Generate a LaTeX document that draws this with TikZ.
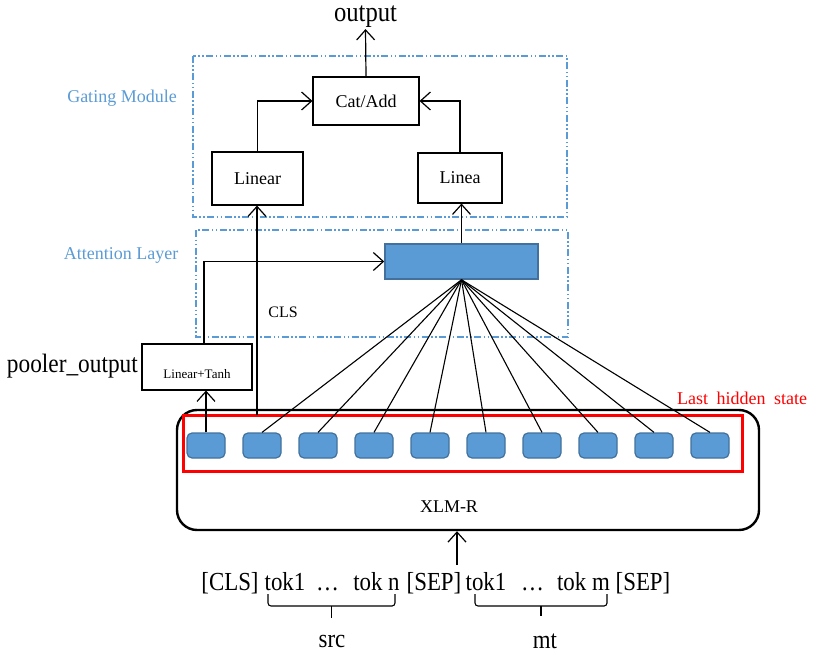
\documentclass[tikz,border=0pt]{standalone}
\usepackage{fontspec}
\setmainfont{Liberation Serif}
\newfontfamily\tallfont{Liberation Serif}[FakeStretch=0.88]
\usetikzlibrary{arrows.meta}
\definecolor{ablue}{HTML}{5B9BD5}
\definecolor{dblue}{HTML}{41719C}
\definecolor{lblue}{HTML}{5B9BD5}
\tikzset{
  arr/.style={line width=1.2pt, -{Straight Barb[length=10pt,width=18pt,line width=1.2pt]}},
  wire/.style={line width=1.1pt},
  plainbox/.style={draw, line width=1.1pt, fill=white, inner sep=0pt},
  grp/.style={draw=lblue, line width=1.2pt, dash pattern=on 7pt off 2.5pt on 1.5pt off 2.5pt on 1.5pt off 2.5pt},
  grplabel/.style={text=ablue, font=\fontsize{18}{20}\selectfont, inner sep=0pt},
  tok/.style={draw=dblue, line width=1.2pt, fill=ablue, rounded corners=5pt, minimum width=38pt, minimum height=25pt, inner sep=0pt},
  txt/.style={font=\tallfont\fontsize{26}{28}\selectfont, inner sep=0pt, anchor=base},
}
\begin{document}
\begin{tikzpicture}[x=1pt,y=-1pt]
\useasboundingbox (0,0) rectangle (816,655);

% group boxes
\draw[grp] (193,56) rectangle (567,217);
\draw[grp] (196,230) rectangle (568,337);
\node[grplabel] (glab) at (122,98) {Gating Module};
\node[grplabel] (alab) at (121,255) {Attention Layer};

% top part
\node[font=\tallfont\fontsize{28}{30}\selectfont, inner sep=1pt] (out) at (365.5,17) {output};
\node[plainbox, minimum width=106pt, minimum height=48pt, font=\fontsize{18}{20}\selectfont] (cat) at (366,101) {Cat/Add};
\node[plainbox, minimum width=91pt, minimum height=53pt, font=\fontsize{18}{20}\selectfont] (lin1) at (257.5,178.5) {Linear};
\node[plainbox, minimum width=84pt, minimum height=50pt, font=\fontsize{18}{20}\selectfont] (lin2) at (460,178) {Linea};

% attention bar
\node[draw=dblue, line width=1.6pt, fill=ablue, minimum width=153pt, minimum height=35pt, inner sep=0pt] (bar) at (461.5,261.5) {};
\node[font=\fontsize{16}{18}\selectfont, inner sep=0pt] (cls) at (283,312) {CLS};

% pooler
\node[font=\tallfont\fontsize{26.5}{28}\selectfont, inner sep=0pt, anchor=east] (pool) at (138,366) {pooler\_output};
\node[plainbox, minimum width=110pt, minimum height=46pt] (tanh) at (197,367) {};
\node[font=\fontsize{13}{15}\selectfont, inner sep=0pt] (tanhtxt) at (197,374) {Linear+Tanh};

% XLM-R
\node[draw, line width=2.4pt, rounded corners=20pt, minimum width=582pt, minimum height=120pt, inner sep=0pt] (xlm) at (468,470) {};
\node[draw=red, line width=3pt, minimum width=559pt, minimum height=56pt, inner sep=0pt] (red) at (462.5,443) {};
\node[font=\fontsize{18}{20}\selectfont, inner sep=0pt] (xlmtxt) at (449,507) {XLM-R};
\node[text=red, font=\fontsize{18}{20}\selectfont, inner sep=0pt] (lhs) at (742,398) {Last\hspace{4pt} hidden\hspace{4pt} state};

% tokens
\foreach \i in {1,...,10} {
  \node[tok] (t\i) at ({206+56*(\i-1)},445.5) {};
}

% connectors
\draw[arr] (cat.north) -- (out.south);
\draw[arr] (lin1.north) |- (cat.west);
\draw[arr] (lin2.north) |- (cat.east);
\draw[arr] (bar.north) -- (bar.north |- lin2.south);
\coordinate (ptop) at (204,344);
\draw[arr] (ptop) |- (bar.west);
\draw[arr] (t1.north) -- (t1.north |- tanh.south);
\coordinate (clsin) at (257,415);
\draw[arr] (clsin) -- (clsin |- lin1.south);
\foreach \i in {2,...,10} {
  \draw[wire] (bar.south) -- (t\i.north);
}

% input tokens
\node[txt] (w1) at (230,590) {[CLS]};
\node[txt] (w2) at (285,590) {tok1};
\node[txt] (w3) at (327.5,590) {\dots};
\node[txt] (w4) at (376.5,590) {tok n};
\node[txt] (w5) at (434,590) {[SEP]};
\node[txt] (w6) at (486,590) {tok1};
\node[txt] (w7) at (532.5,590) {\dots};
\node[txt] (w8) at (583.5,590) {tok m};
\node[txt] (w9) at (643,590) {[SEP]};
\coordinate (inp) at (457,565);
\draw[arr] (inp) -- (inp |- xlm.south);

% braces
\draw[wire, rounded corners=3pt] (268,594) -- (268,606) -- (395,606) -- (395,594);
\draw[wire] (331.5,606) -- (331.5,618);
\draw[wire, rounded corners=3pt] (475,594) -- (475,606) -- (607,606) -- (607,594);
\draw[wire] (541,606) -- (541,616);
\node[font=\tallfont\fontsize{26}{28}\selectfont, inner sep=0pt] (src) at (332,641) {src};
\node[font=\tallfont\fontsize{26}{28}\selectfont, inner sep=0pt] (mt) at (545,641) {mt};
\end{tikzpicture}
\end{document}
